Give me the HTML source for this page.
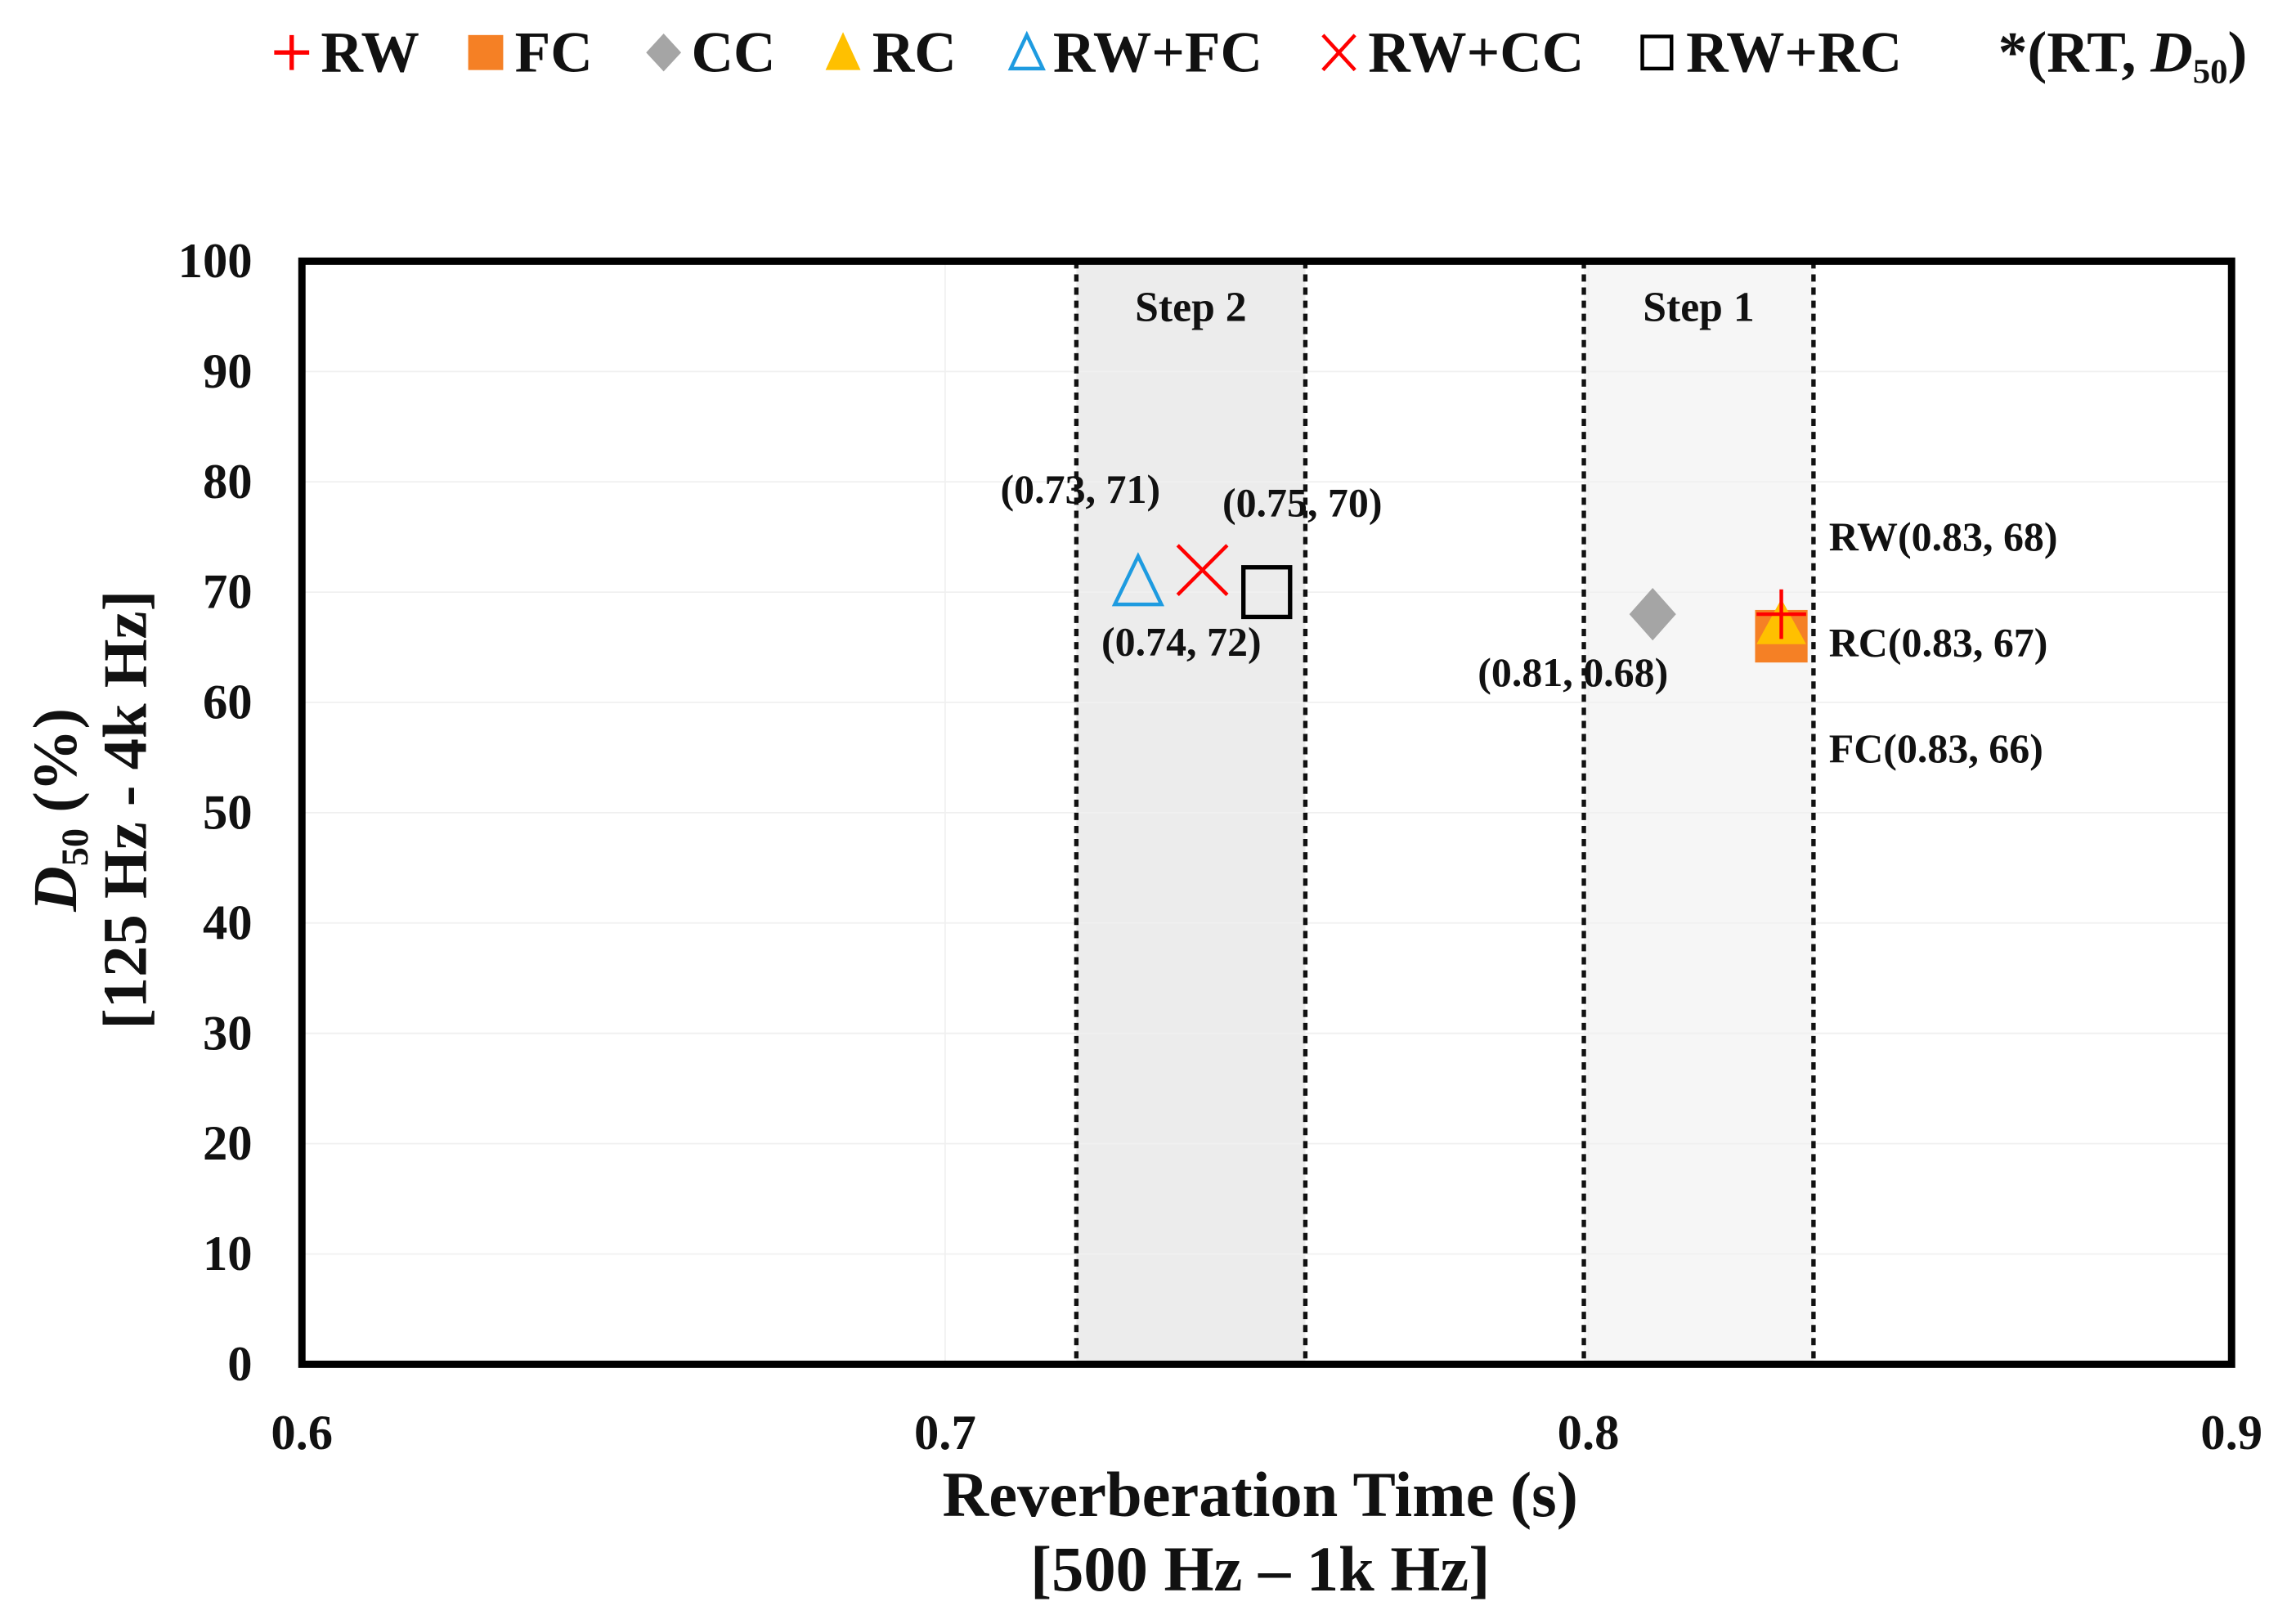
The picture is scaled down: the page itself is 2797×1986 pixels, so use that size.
<!DOCTYPE html>
<html><head><meta charset="utf-8"><style>
html,body{margin:0;padding:0;background:#fff;}
svg{display:block;}
text{font-family:"Liberation Serif",serif;font-weight:bold;fill:#111;}
</style></head><body>
<svg id="chart" width="2797" height="1986" viewBox="0 0 1568 1113" preserveAspectRatio="none" xmlns="http://www.w3.org/2000/svg">
<g id="legend">
  <g><path d="M188 36h24M200 24v24" stroke="#f00" stroke-width="3"/><text x="220" y="49" font-size="40">RW</text></g>
  <g><rect x="321" y="24" width="24" height="24" fill="#f58025"/><text x="353" y="49" font-size="40">FC</text></g>
  <g><path d="M455 23l12 13-12 13-12-13z" fill="#a5a5a5"/><text x="474" y="49" font-size="40">CC</text></g>
  <g><path d="M578 22l12 26h-24z" fill="#ffc000"/><text x="598" y="49" font-size="40">RC</text></g>
  <g><path d="M704 24l11 23h-22z" fill="none" stroke="#1e9be0" stroke-width="2.5"/><text x="722" y="49" font-size="40">RW+FC</text></g>
  <g><path d="M907 24l22 24M929 24l-22 24" stroke="#f00" stroke-width="2.5"/><text x="938" y="49" font-size="40">RW+CC</text></g>
  <g><rect x="1126" y="25" width="20" height="22" fill="none" stroke="#000" stroke-width="2.5"/><text x="1156" y="49" font-size="40">RW+RC</text></g>
  <text x="1370" y="49" font-size="40">*(RT, <tspan font-style="italic">D</tspan><tspan font-size="24" dy="8">50</tspan><tspan dy="-8">)</tspan></text>
</g>
<g id="plot"></g>
</svg>
<script>
const xTicks=[0.6,0.7,0.8,0.9];
const yTicks=[0,10,20,30,40,50,60,70,80,90,100];
const bandStarts=[0.7204,0.7993];
const bandEnds=[0.756,0.835];
const bandLabels=["Step 2","Step 1"];
const seriesNames=["RW+FC","RW+CC","RW+RC","CC","FC","RC","RW"];
const seriesX=[0.73,0.74,0.75,0.81,0.83,0.83,0.83];
const seriesY=[71,72,70,68,66,67,68];
const annTexts=["(0.73, 71)","(0.74, 72)","(0.75, 70)","(0.81, 0.68)","RW(0.83, 68)","RC(0.83, 67)","FC(0.83, 66)"];
const annX=[0.7086,0.7243,0.7431,0.7828,0.8374,0.8374,0.8374];
const annY=[79.4,65.6,78.2,62.8,75.1,65.5,55.9];

const L=207,R=1530,T=179,B=935;
const X=v=>L+(v-0.6)/0.3*(R-L);
const Y=v=>B-(v/100)*(B-T);
const NS="http://www.w3.org/2000/svg";
const g=document.getElementById('plot');
function mk(tag,at,parent){const e=document.createElementNS(NS,tag);for(const k in at)e.setAttribute(k,at[k]);(parent||g).appendChild(e);return e;}

bandStarts.forEach((s,i)=>{
  const r=mk('rect',{x:X(s),y:T,width:X(bandEnds[i])-X(s),height:B-T,fill:i===0?'#ececec':'#f6f6f6'});
  
  
});
yTicks.forEach(v=>{if(v>0&&v<100){const l=mk('line',{x1:L,x2:R,y1:Y(v),y2:Y(v),stroke:'#f0f0f0','stroke-width':1});
  
  }});
xTicks.forEach(v=>{if(v>0.6&&v<0.9){const l=mk('line',{x1:X(v),x2:X(v),y1:T,y2:B,stroke:'#f0f0f0','stroke-width':1});
  
  }});
bandStarts.forEach((s,i)=>{[s,bandEnds[i]].forEach(v=>{
  const l=mk('line',{x1:X(v),x2:X(v),y1:T,y2:B,stroke:'#111','stroke-width':3,'stroke-dasharray':'5 4'});
  
  
});
  const t=mk('text',{x:(X(s)+X(bandEnds[i]))/2,y:T+41,'font-size':29,'text-anchor':'middle'});t.textContent=bandLabels[i];
  
  
});
const fr=mk('rect',{x:L,y:T,width:R-L,height:B-T,fill:'none',stroke:'#000','stroke-width':5});


yTicks.forEach(v=>{const t=mk('text',{x:173,y:Y(v)+11,'font-size':34,'text-anchor':'end'});t.textContent=v;
  
  });
xTicks.forEach(v=>{const t=mk('text',{x:X(v),y:993,'font-size':34,'text-anchor':'middle'});t.textContent=v.toFixed(1);
  
  });
let t1=mk('text',{x:864,y:1039,'font-size':44,'text-anchor':'middle'});t1.textContent='Reverberation Time (s)';


let t2=mk('text',{x:864,y:1090,'font-size':44,'text-anchor':'middle'});t2.textContent='[500 Hz \u2013 1k Hz]';


let t3=mk('text',{transform:'translate(52,555) rotate(-90)','font-size':43,'text-anchor':'middle'});
t3.innerHTML='<tspan font-style="italic">D</tspan><tspan font-size="26" dy="8">50</tspan><tspan dy="-8"> (%)</tspan>';


let t4=mk('text',{transform:'translate(100,555) rotate(-90)','font-size':43,'text-anchor':'middle'});t4.textContent='[125 Hz - 4k Hz]';


seriesNames.forEach((n,i)=>{
  const cx=X(seriesX[i]),cy=Y(seriesY[i]);let e;
  if(n==='RW+FC')e=mk('path',{d:`M${cx} ${cy-17}l16 33h-32z`,fill:'none',stroke:'#1e9be0','stroke-width':2.5});
  else if(n==='RW+CC')e=mk('path',{d:`M${cx-17} ${cy-17}l34 34M${cx+17} ${cy-17}l-34 34`,stroke:'#f00','stroke-width':2.5});
  else if(n==='RW+RC')e=mk('rect',{x:cx-16,y:cy-17,width:32,height:34,fill:'none',stroke:'#000','stroke-width':3});
  else if(n==='CC')e=mk('path',{d:`M${cx} ${cy-18}l16 18-16 18-16-18z`,fill:'#a5a5a5'});
  else if(n==='FC')e=mk('rect',{x:cx-18,y:cy-18,width:36,height:36,fill:'#f58025'});
  else if(n==='RC')e=mk('path',{d:`M${cx} ${cy-18}l17 31h-34z`,fill:'#ffc000'});
  else e=mk('path',{d:`M${cx-17} ${cy}h34M${cx} ${cy-17}v34`,stroke:'#f00','stroke-width':2.5});
  
  
});
annTexts.forEach((s,i)=>{const t=mk('text',{x:X(annX[i]),y:Y(annY[i])+10,'font-size':28});t.textContent=s;
  
  });
</script>
</body></html>
